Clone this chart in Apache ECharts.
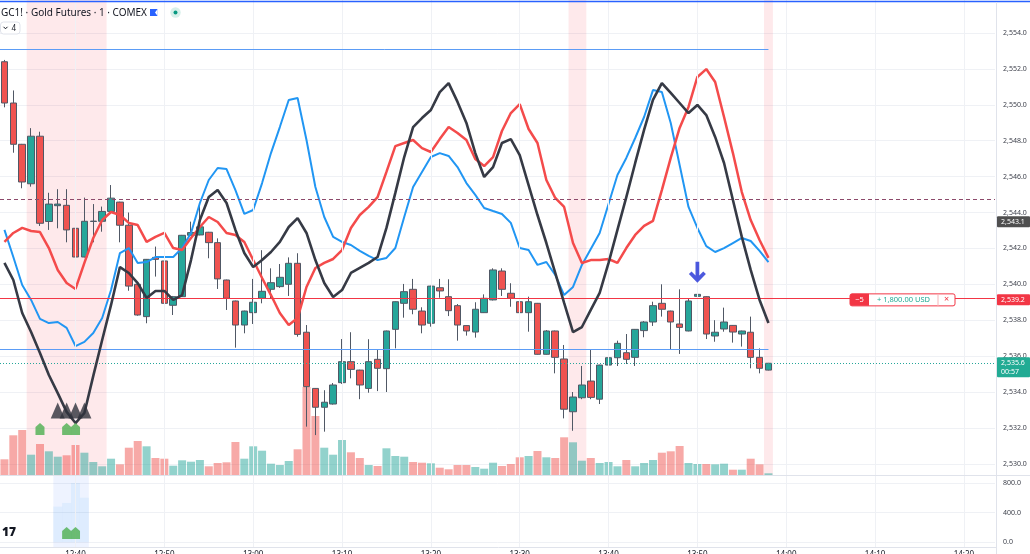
<!DOCTYPE html>
<html><head><meta charset="utf-8">
<script src="https://cdn.jsdelivr.net/npm/echarts@6/dist/echarts.min.js"></script>
<style>html,body{margin:0;padding:0;background:#fff;overflow:hidden}#c{width:1030px;height:554px}</style>
</head><body><div id="c"></div>
<script>
// ---------- DATA ----------
const slotCount = 112; // candle slots across the plot (87 used)
const tickLabels = ['12:40','12:50','13:00','13:10','13:20','13:30','13:40','13:50','14:00','14:10','14:20'];
const opens = [2552.4,2550.1,2547.8,2545.6,2548.25,2543.5,2544.38,2544.4,2543.12,2541.52,
2543.5,2543.51,2544.06,2544.58,2543.29,2540.0,2538.2,2541.5,2541.3,2538.83,
2539.31,2542.73,2542.75,2542.9,2542.32,2540.24,2539.07,2537.73,2538.42,2539.22,
2539.72,2539.87,2540.0,2541.17,2537.33,2534.2,2533.15,2533.33,2534.52,2535.69,
2535.22,2534.2,2535.82,2535.3,2537.49,2538.94,2539.72,2538.51,2537.83,2539.81,
2539.31,2538.81,2537.7,2537.34,2538.42,2539.13,2540.74,2539.5,2539.03,2538.42,
2538.94,2536.1,2537.4,2535.84,2532.9,2533.68,2534.61,2533.6,2535.5,2535.91,
2536.19,2535.93,2537.42,2537.9,2538.94,2538.51,2537.79,2537.4,2539.33,2539.31,
2537.12,2537.51,2537.71,2537.23,2537.33,2535.93,2535.22];
const closes = [2550.1,2547.8,2545.7,2548.25,2543.4,2544.47,2544.47,2543.03,2541.52,2543.51,
2543.52,2544.06,2544.8,2543.29,2539.9,2538.29,2541.39,2541.39,2538.94,2539.31,
2542.73,2542.88,2543.2,2542.32,2540.3,2539.22,2537.73,2538.51,2539.0,2539.61,
2540.09,2540.39,2541.17,2537.21,2534.3,2533.15,2533.43,2534.39,2535.69,2535.26,
2534.39,2535.69,2535.32,2537.4,2539.03,2539.59,2538.61,2537.73,2539.9,2539.63,
2538.53,2537.73,2537.4,2538.61,2539.22,2540.8,2539.72,2539.22,2538.42,2539.03,
2536.1,2537.4,2535.93,2533.04,2533.72,2534.39,2533.7,2535.5,2535.91,2536.71,
2535.82,2537.49,2537.9,2538.81,2538.61,2537.9,2537.6,2539.07,2539.44,2537.23,
2537.33,2537.9,2537.34,2537.4,2535.93,2535.32,2535.6];
const lows = [2549.86,2547.33,2545.35,2545.44,2543.25,2543.03,2543.12,2542.34,2540.83,2541.5,
2542.34,2542.93,2544.04,2542.34,2539.64,2538.25,2537.83,2540.43,2538.2,2538.29,
2539.29,2542.7,2542.73,2541.45,2539.74,2538.57,2536.47,2537.27,2537.79,2538.94,
2539.22,2539.8,2539.35,2537.08,2532.07,2531.6,2531.79,2533.3,2534.45,2534.76,
2533.6,2533.96,2534.05,2534.0,2536.43,2538.14,2538.33,2537.27,2537.64,2539.25,
2538.23,2536.86,2537.14,2537.03,2538.4,2539.1,2539.35,2538.75,2537.83,2537.36,
2536.08,2536.08,2535.04,2532.53,2531.84,2533.6,2533.6,2533.33,2535.22,2535.45,
2535.56,2535.45,2537.05,2537.68,2538.2,2536.34,2536.12,2537.38,2538.23,2536.95,
2536.8,2537.36,2536.75,2536.53,2535.32,2535.04,2535.2];
const highs = [2552.5,2550.8,2547.82,2548.7,2548.5,2545.1,2545.3,2545.3,2543.25,2544.83,
2544.47,2544.33,2545.53,2544.6,2544.0,2540.02,2541.41,2542.1,2541.4,2539.35,
2542.75,2543.49,2544.5,2542.92,2542.56,2540.26,2539.09,2538.53,2540.3,2541.9,
2540.89,2541.13,2541.5,2541.73,2537.73,2534.22,2534.1,2534.5,2536.95,2537.33,
2535.24,2536.94,2536.34,2537.42,2539.05,2540.02,2540.3,2538.72,2539.92,2540.3,
2540.28,2538.9,2537.72,2539.0,2539.44,2540.89,2540.89,2540.06,2539.59,2539.31,
2538.96,2537.45,2537.42,2536.62,2534.0,2535.45,2536.34,2535.52,2537.23,2536.86,
2537.23,2537.51,2537.95,2539.03,2540.0,2538.53,2539.72,2539.2,2539.83,2539.33,
2538.0,2538.7,2537.73,2537.42,2538.2,2536.43,2535.62];
const volumes = [157,397,450,203,310,237,183,197,300,223,
130,87,163,107,273,340,287,170,163,93,
147,133,150,87,120,127,330,163,287,243,
113,100,140,257,880,590,273,203,350,227,
170,100,90,267,190,183,130,123,117,73,
57,100,100,80,63,123,90,110,177,190,
240,177,170,377,327,143,170,120,130,87,
150,87,120,150,223,237,290,120,110,110,
107,113,53,53,163,107,17];
const blueLine = [2543.03,2541.52,2539.96,2539.13,2538.07,2537.84,2537.90,2537.57,2536.56,2536.79,
2537.29,2538.12,2539.68,2541.74,2542.02,2541.19,2541.24,2541.52,2541.52,2541.52,
2542.02,2542.86,2544.53,2545.81,2546.48,2546.42,2545.25,2543.92,2544.14,2545.64,
2547.31,2548.76,2550.27,2550.38,2548.04,2545.42,2543.75,2542.64,2542.36,2542.19,
2541.86,2541.58,2541.35,2541.47,2542.02,2543.75,2545.42,2546.26,2547.09,2547.31,
2547.15,2546.53,2545.64,2544.98,2544.25,2544.08,2543.92,2543.42,2542.02,2541.91,
2541.08,2541.24,2540.52,2539.40,2539.85,2541.08,2541.97,2542.86,2544.47,2546.09,
2547.04,2548.15,2549.32,2550.82,2550.71,2548.99,2546.65,2544.31,2543.14,2542.13,
2541.80,2542.02,2542.30,2542.58,2542.41,2541.86,2541.24];
const redLine = [2542.36,2542.86,2543.14,2542.97,2542.91,2542.02,2540.80,2540.07,2539.74,2541.19,
2542.58,2543.58,2544.03,2543.86,2543.42,2543.30,2542.36,2542.64,2542.86,2542.02,
2541.91,2542.58,2543.19,2543.75,2543.47,2542.86,2542.75,2542.36,2541.35,2540.35,
2539.40,2538.40,2537.73,2538.12,2539.85,2540.91,2541.19,2541.41,2541.91,2543.14,
2543.86,2544.31,2544.86,2546.26,2547.70,2547.87,2548.04,2547.59,2547.37,2548.09,
2548.76,2548.43,2548.04,2546.98,2546.59,2547.09,2548.54,2549.54,2550.04,2548.65,
2547.87,2545.81,2544.81,2544.31,2542.30,2541.19,2541.35,2541.35,2541.41,2541.19,
2542.02,2542.75,2543.25,2543.53,2545.25,2547.04,2548.71,2549.88,2551.55,2551.99,
2551.27,2549.32,2547.31,2545.14,2543.58,2542.47,2541.47];
const blackLine = [2541.19,2540.24,2538.40,2537.34,2536.17,2534.95,2533.94,2532.89,2532.27,2532.83,
2534.90,2536.90,2538.85,2540.96,2540.63,2540.07,2539.24,2539.63,2539.63,2539.13,
2539.40,2541.35,2543.58,2544.86,2545.25,2544.53,2543.03,2541.74,2540.96,2541.35,
2541.80,2542.36,2543.19,2543.69,2542.86,2541.35,2540.07,2539.29,2539.68,2540.63,
2540.91,2541.19,2541.52,2543.14,2545.09,2547.09,2548.76,2549.26,2549.71,2550.71,
2551.21,2550.16,2548.99,2547.31,2545.98,2546.53,2547.87,2548.09,2547.20,2545.53,
2543.86,2542.30,2540.63,2538.96,2537.34,2537.62,2538.57,2539.52,2541.19,2543.03,
2544.86,2546.76,2548.60,2550.27,2551.21,2550.66,2550.10,2549.54,2549.99,2549.43,
2548.21,2546.76,2544.70,2542.64,2540.80,2539.13,2537.84];
const greenSignalIdx = [4, 7, 8];
const greenSignalPrice = 2531.94;
const triangleIdx = [6, 7, 8, 9];
const trianglePrice = 2532.97;
const arrowIdx = 78;
const lowerBarIdx = [6, 7, 8, 9];
const lowerBarVals = [480, 530, 800, 600];
const lowerSignalIdx = [7, 8];
const lowerSignalVal = 122;
const pinkBands = [[2.5, 11.5], [63.5, 65.5], [85.5, 86.5]];
const blueBand = [5.5, 9.5];
const vGridIdx = [8, 18, 28, 38, 48, 58, 68, 78, 88, 98, 108];
const dashedLevel = 2544.74;
const positionLevel = 2539.2;
const lastPrice = 2535.6;
const blueLevels = [2553.1, 2536.38];
const blueLevelsEnd = 86;
const badgeLevel = 2543.1;

// ---------- BUILD ----------
const categories = Array.from({length: slotCount}, (_, i) => String(i));
const UP = '#26a69a', DOWN = '#ef5350';
function fmt(v){ const s = v.toFixed(1).split('.'); return s[0].replace(/\B(?=(\d{3})+$)/g, ',') + '.' + s[1]; }

const chart = echarts.init(document.getElementById('c'), null, {renderer: 'canvas'});
const gridLineColor = '#eff1f5';
const vLines = vGridIdx.map(i => ({xAxis: i}));
const G = {left: 0, right: 35, containLabel: false, outerBoundsMode: 'none'};

const option = {
  animation: false,
  backgroundColor: '#ffffff',
  grid: [
    Object.assign({top: -2.9, height: 502.6}, G),   // 0 price
    Object.assign({top: 375, height: 100}, G),      // 1 volume
    Object.assign({top: 483, height: 59}, G),       // 2 lower pane
    Object.assign({top: 0, height: 475}, G),        // 3 main background
    Object.assign({top: 475, height: 72}, G)        // 4 lower background
  ],
  xAxis: [
    {type: 'category', gridIndex: 0, data: categories, show: false},
    {type: 'value', gridIndex: 0, min: -0.5, max: slotCount - 0.5, show: false},
    {type: 'category', gridIndex: 1, data: categories, show: false},
    {type: 'category', gridIndex: 2, data: categories,
      axisLine: {show: false}, axisTick: {show: false}, splitLine: {show: false},
      axisLabel: {show: true, margin: 9, fontSize: 8, color: '#131722', fontFamily: 'Noto Sans',
        interval: (idx) => idx >= vGridIdx[0] && (idx - vGridIdx[0]) % 10 === 0,
        formatter: (val, idx) => tickLabels[(idx - vGridIdx[0]) / 10] || ''}},
    {type: 'value', gridIndex: 3, min: -0.5, max: slotCount - 0.5, show: false},
    {type: 'value', gridIndex: 4, min: -0.5, max: slotCount - 0.5, show: false}
  ],
  yAxis: [
    {type: 'value', gridIndex: 0, position: 'right', min: 2528, max: 2556, interval: 2, scale: true,
      axisLine: {show: false}, axisTick: {show: false},
      axisLabel: {margin: 8, fontSize: 7, color: '#3c3f4a', fontFamily: 'Noto Sans', showMinLabel: false, showMaxLabel: false, formatter: fmt},
      splitLine: {show: true, showMinLine: false, showMaxLine: false, lineStyle: {color: gridLineColor, width: 1}}},
    {type: 'value', gridIndex: 1, min: 0, max: 1000, show: false},
    {type: 'value', gridIndex: 2, position: 'right', min: 0, max: 800, interval: 400,
      axisLine: {show: false}, axisTick: {show: false},
      axisLabel: {margin: 8, fontSize: 7, color: '#3c3f4a', fontFamily: 'Noto Sans', formatter: v => v.toFixed(1)},
      splitLine: {show: true, lineStyle: {color: gridLineColor, width: 1}}},
    {type: 'value', gridIndex: 3, min: 0, max: 1, show: false},
    {type: 'value', gridIndex: 4, min: 0, max: 1, show: false}
  ],
  series: [
    { // main background: highlight bands + vertical grid
      type: 'line', xAxisIndex: 4, yAxisIndex: 3, data: [[-5, -5]], symbol: 'none', silent: true, z: 0,
      lineStyle: {opacity: 0},
      markArea: {silent: true, itemStyle: {color: 'rgba(242,54,69,0.11)'},
        data: pinkBands.map(b => [{xAxis: b[0], yAxis: 0}, {xAxis: b[1], yAxis: 1}])},
      markLine: {silent: true, symbol: ['none', 'none'], label: {show: false},
        lineStyle: {color: gridLineColor, type: 'solid', width: 1}, data: vLines}
    },
    { // lower background
      type: 'line', xAxisIndex: 5, yAxisIndex: 4, data: [[-5, -5]], symbol: 'none', silent: true, z: 0,
      lineStyle: {opacity: 0},
      markArea: {silent: true, itemStyle: {color: 'rgba(41,98,255,0.08)'},
        data: [[{xAxis: blueBand[0], yAxis: 0}, {xAxis: blueBand[1], yAxis: 1}]]},
      markLine: {silent: true, symbol: ['none', 'none'], label: {show: false},
        lineStyle: {color: gridLineColor, type: 'solid', width: 1}, data: vLines}
    },
    { // volume overlay
      type: 'bar', xAxisIndex: 2, yAxisIndex: 1, barWidth: 8, silent: true, z: 1,
      data: volumes.map((v, i) => ({value: v, itemStyle: {color: closes[i] >= opens[i] ? 'rgba(38,166,154,0.5)' : 'rgba(239,83,80,0.5)'}}))
    },
    { // lower pane faint bars
      type: 'bar', xAxisIndex: 3, yAxisIndex: 2, barWidth: 9, silent: true, z: 1,
      itemStyle: {color: 'rgba(33,150,243,0.08)'},
      data: categories.map((c, i) => { const k = lowerBarIdx.indexOf(i); return k >= 0 ? lowerBarVals[k] : null; })
    },
    { // lower pane signals
      type: 'scatter', xAxisIndex: 3, yAxisIndex: 2, silent: true, z: 6,
      symbol: 'path://M5,0 L10,4 L10,12 L0,12 L0,4 Z', symbolSize: [9, 12],
      itemStyle: {color: '#4caf50'},
      data: lowerSignalIdx.map(i => [i, lowerSignalVal])
    },
    { // candles
      type: 'candlestick', xAxisIndex: 0, yAxisIndex: 0, barWidth: 7, z: 3,
      itemStyle: {color: UP, color0: DOWN, borderColor: '#505865', borderColor0: '#505865', borderWidth: 1},
      data: opens.map((o, i) => [o, closes[i], lows[i], highs[i]]),
      markLine: {silent: true, symbol: ['none', 'none'], label: {show: false},
        data: [
          {yAxis: dashedLevel, lineStyle: {color: '#8d4a6b', type: [4, 3], width: 1}},
          {yAxis: positionLevel, lineStyle: {color: '#f23645', type: 'solid', width: 1}},
          {yAxis: lastPrice, lineStyle: {color: '#26a69a', type: [1, 2], width: 1}}
        ]}
    },
    { // partial blue levels
      type: 'line', xAxisIndex: 1, yAxisIndex: 0, data: [[-5, 0]], symbol: 'none', silent: true, z: 2,
      lineStyle: {opacity: 0},
      markLine: {silent: true, symbol: ['none', 'none'], label: {show: false},
        lineStyle: {color: '#5b9cf6', type: 'solid', width: 1},
        data: blueLevels.map(v => [{coord: [-0.5, v]}, {coord: [blueLevelsEnd, v]}])}
    },
    {type: 'line', name: 'blue', xAxisIndex: 0, yAxisIndex: 0, data: blueLine, symbol: 'none', z: 4,
      lineStyle: {color: '#2196f3', width: 2}},
    {type: 'line', name: 'red', xAxisIndex: 0, yAxisIndex: 0, data: redLine, symbol: 'none', z: 4,
      lineStyle: {color: '#f44b4b', width: 2.5}},
    {type: 'line', name: 'black', xAxisIndex: 0, yAxisIndex: 0, data: blackLine, symbol: 'none', z: 5,
      lineStyle: {color: '#363a45', width: 2.6}},
    { // black triangles
      type: 'scatter', xAxisIndex: 0, yAxisIndex: 0, silent: true, z: 6,
      symbol: 'triangle', symbolSize: [14, 16], itemStyle: {color: '#2f323c'},
      data: triangleIdx.map(i => [String(i), trianglePrice])
    },
    { // green signals main
      type: 'scatter', xAxisIndex: 0, yAxisIndex: 0, silent: true, z: 6,
      symbol: 'path://M5,0 L10,4 L10,12 L0,12 L0,4 Z', symbolSize: [9, 12],
      itemStyle: {color: '#4caf50'},
      data: greenSignalIdx.map(i => [String(i), greenSignalPrice])
    },
    { // blue arrow above candle
      type: 'scatter', xAxisIndex: 0, yAxisIndex: 0, silent: true, z: 6,
      symbol: 'path://M5,0 L8.4,0 L8.4,12 L12,8.4 L14.4,10.8 L6.7,18.5 L-1,10.8 L1.4,8.4 L5,12 Z',
      symbolSize: [17, 21], symbolOffset: [0, -15], itemStyle: {color: '#1f2fd6'},
      data: [[String(arrowIdx), highs[arrowIdx]]]
    }
  ]
};
chart.setOption(option);

// ---------- UI OVERLAYS ----------
const yOf = v => chart.convertToPixel({yAxisIndex: 0}, v);
const g = [];
const F = 'Noto Sans';
g.push({type: 'rect', shape: {x: 0, y: 0.8, width: 1030, height: 1.4}, style: {fill: '#2962ff'}, z: 50, silent: true});
g.push({type: 'line', shape: {x1: 996.5, y1: 2, x2: 996.5, y2: 554}, style: {stroke: '#e0e3eb', lineWidth: 1}, z: 50, silent: true});
g.push({type: 'line', shape: {x1: 0, y1: 475.5, x2: 1030, y2: 475.5}, style: {stroke: '#e0e3eb', lineWidth: 1.2}, z: 50, silent: true});
g.push({type: 'line', shape: {x1: 0, y1: 547.5, x2: 997, y2: 547.5}, style: {stroke: '#e0e3eb', lineWidth: 1}, z: 50, silent: true});
g.push({type: 'text', x: 1, y: 13, style: {text: 'GC1! · Gold Futures · 1 · COMEX', fontSize: 10, fontFamily: F, fill: '#131722', verticalAlign: 'middle'}, z: 60, silent: true});
g.push({type: 'rect', shape: {x: 150, y: 9, width: 7.5, height: 7}, style: {fill: '#2962ff'}, z: 60, silent: true});
g.push({type: 'polygon', shape: {points: [[155, 12.5], [157.6, 9], [157.6, 16]]}, style: {fill: '#ffffff'}, z: 61, silent: true});
g.push({type: 'circle', shape: {cx: 175.5, cy: 12.5, r: 5.2}, style: {fill: '#d7f0ea'}, z: 60, silent: true});
g.push({type: 'circle', shape: {cx: 175.5, cy: 12.5, r: 2}, style: {fill: '#089981'}, z: 61, silent: true});
g.push({type: 'rect', shape: {x: 0.5, y: 22, width: 19.5, height: 12, r: 3}, style: {fill: '#ffffff', stroke: '#e0e3eb', lineWidth: 1}, z: 60, silent: true});
g.push({type: 'polyline', shape: {points: [[3.5, 26.8], [5.5, 28.8], [7.5, 26.8]]}, style: {stroke: '#131722', lineWidth: 1, fill: null}, z: 61, silent: true});
g.push({type: 'text', x: 11.5, y: 28.3, style: {text: '4', fontSize: 8, fontFamily: F, fill: '#131722', verticalAlign: 'middle'}, z: 61, silent: true});
g.push({type: 'text', x: 2, y: 533, style: {text: '17', fontSize: 12, fontWeight: 900, fontFamily: F, fill: '#131722', verticalAlign: 'middle'}, z: 60, silent: true});

function badge(yc, color, lines) {
  const h = lines.length === 1 ? 11 : 20;
  const top = lines.length === 1 ? yc - h / 2 : yc - 6;
  g.push({type: 'rect', shape: {x: 997, y: top, width: 33, height: h, r: 1}, style: {fill: color}, z: 70, silent: true});
  lines.forEach((t, k) => g.push({type: 'text', x: 1001, y: (lines.length === 1 ? yc : yc + k * 9),
    style: {text: t, fontSize: 7, fontFamily: F, fill: '#ffffff', verticalAlign: 'middle'}, z: 71, silent: true}));
}
badge(yOf(badgeLevel) - 7, '#4f4f4f', [fmt(badgeLevel)]);
badge(yOf(positionLevel) + 1, '#f23645', [fmt(positionLevel)]);
badge(yOf(lastPrice), '#22ab94', [fmt(lastPrice), '00:57']);

const py = yOf(positionLevel) + 1.2;
g.push({type: 'rect', shape: {x: 850, y: py - 6, width: 105, height: 12, r: 2}, style: {fill: '#ffffff', stroke: '#f23645', lineWidth: 1}, z: 70, silent: true});
g.push({type: 'rect', shape: {x: 850, y: py - 6, width: 19, height: 12, r: [2, 0, 0, 2]}, style: {fill: '#f23645'}, z: 71, silent: true});
g.push({type: 'line', shape: {x1: 938, y1: py - 6, x2: 938, y2: py + 6}, style: {stroke: '#f7b5ba', lineWidth: 1}, z: 71, silent: true});
g.push({type: 'text', x: 859.5, y: py, style: {text: '−5', fontSize: 7.5, fontFamily: F, fill: '#ffffff', align: 'center', verticalAlign: 'middle'}, z: 72, silent: true});
g.push({type: 'text', x: 903.5, y: py, style: {text: '+ 1,800.00 USD', fontSize: 7.5, fontFamily: F, fill: '#22ab94', align: 'center', verticalAlign: 'middle'}, z: 72, silent: true});
g.push({type: 'text', x: 946.5, y: py, style: {text: '×', fontSize: 9, fontFamily: F, fill: '#f23645', align: 'center', verticalAlign: 'middle'}, z: 72, silent: true});

chart.setOption({graphic: g});
</script>
</body></html>
